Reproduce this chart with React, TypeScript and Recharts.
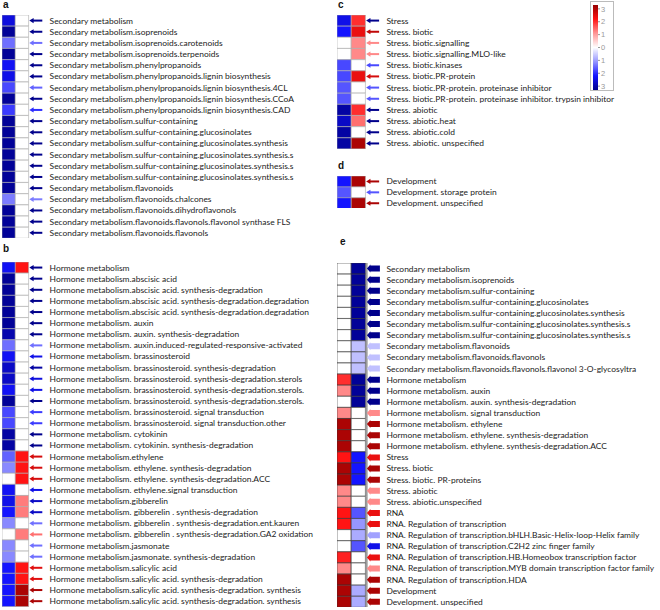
import { BarChart, Bar, XAxis, YAxis, Cell } from "recharts";

// ---- panel a: secondary metabolism ----
const secLabels = [
  "Secondary metabolism",
  "Secondary metabolism.isoprenoids",
  "Secondary metabolism.isoprenoids.carotenoids",
  "Secondary metabolism.isoprenoids.terpenoids",
  "Secondary metabolism.phenylpropanoids",
  "Secondary metabolism.phenylpropanoids.lignin biosynthesis",
  "Secondary metabolism.phenylpropanoids.lignin biosynthesis.4CL",
  "Secondary metabolism.phenylpropanoids.lignin biosynthesis.CCoA",
  "Secondary metabolism.phenylpropanoids.lignin biosynthesis.CAD",
  "Secondary metabolism.sulfur-containing",
  "Secondary metabolism.sulfur-containing.glucosinolates",
  "Secondary metabolism.sulfur-containing.glucosinolates.synthesis",
  "Secondary metabolism.sulfur-containing.glucosinolates.synthesis.s",
  "Secondary metabolism.sulfur-containing.glucosinolates.synthesis.s",
  "Secondary metabolism.sulfur-containing.glucosinolates.synthesis.s",
  "Secondary metabolism.flavonoids",
  "Secondary metabolism.flavonoids.chalcones",
  "Secondary metabolism.flavonoids.dihydroflavonols",
  "Secondary metabolism.flavonoids.flavonols.flavonol synthase FLS",
  "Secondary metabolism.flavonoids.flavonols",
];
const secCol1 = [-2.3, -2.9, -1.3, -2.9, -2.1, -2.2, -1.6, -2.9, -1.7, -2.9, -2.9, -2.9, -2.9, -2.9, -2.9, -2.9, -1.2, -2.9, -2.9, -2.9];
const secCol2 = [0, 0, 0, 0, 0, 0, 0, 0, 0, 0, 0, 0, 0, 0, 0, 0, 0, 0, 0, 0];
const secArrow = [-3, -3, -1.3, -3, -3, -3, -1.4, -3, -1.8, -3, -3, -3, -3, -3, -3, -3, -1.2, -3, -3, -3];

// ---- panel b: hormone metabolism ----
const hormLabels = [
  "Hormone metabolism",
  "Hormone metabolism.abscisic acid",
  "Hormone metabolism.abscisic acid. synthesis-degradation",
  "Hormone metabolism.abscisic acid. synthesis-degradation.degradation",
  "Hormone metabolism.abscisic acid. synthesis-degradation.degradation",
  "Hormone metabolism. auxin",
  "Hormone metabolism. auxin. synthesis-degradation",
  "Hormone metabolism. auxin.induced-regulated-responsive-activated",
  "Hormone metabolism. brassinosteroid",
  "Hormone metabolism. brassinosteroid. synthesis-degradation",
  "Hormone metabolism. brassinosteroid. synthesis-degradation.sterols",
  "Hormone metabolism. brassinosteroid. synthesis-degradation.sterols.",
  "Hormone metabolism. brassinosteroid. synthesis-degradation.sterols.",
  "Hormone metabolism. brassinosteroid. signal transduction",
  "Hormone metabolism. brassinosteroid. signal transduction.other",
  "Hormone metabolism. cytokinin",
  "Hormone metabolism. cytokinin. synthesis-degradation",
  "Hormone metabolism.ethylene",
  "Hormone metabolism. ethylene. synthesis-degradation",
  "Hormone metabolism. ethylene. synthesis-degradation.ACC",
  "Hormone metabolism. ethylene.signal transduction",
  "Hormone metabolism.gibberelin",
  "Hormone metabolism. gibberelin . synthesis-degradation",
  "Hormone metabolism. gibberelin . synthesis-degradation.ent.kauren",
  "Hormone metabolism. gibberelin . synthesis-degradation.GA2 oxidation",
  "Hormone metabolism.jasmonate",
  "Hormone metabolism.jasmonate. synthesis-degradation",
  "Hormone metabolism.salicylic acid",
  "Hormone metabolism.salicylic acid. synthesis-degradation",
  "Hormone metabolism.salicylic acid. synthesis-degradation. synthesis",
  "Hormone metabolism.salicylic acid. synthesis-degradation. synthesis",
];
const hormCol1 = [-2.1, -2.9, -2.9, -2.9, -2.9, -2.9, -2.7, -1.3, -2.1, -2.5, -2.5, -2.1, -2.9, -1.6, -1.6, -2.8, -2.8, -1.4, -1.1, 0, -2.1, -2.2, -2.0, -1.1, 0, -1.1, -1.1, -2.0, -2.0, -2.0, -2.0];
const hormCol2 = [2.0, 0, 0, 0, 0, 0, 0, 0, 0, 0, 0, 0, 0, 0, 0, 0, 0, 2.0, 2.0, 2.0, 0, 1.2, 1.2, 0, 1.2, 0, 0, 2.0, 2.0, 2.8, 2.8];
const hormArrow = [-3, -3, -3, -3, -3, -3, -3, -1.3, -2.2, -2.8, -2.3, -2.2, -3, -1.7, -1.7, -3, -3, 2.4, 2.4, 2.4, -2.2, -2.5, -2.5, -1.3, 1.3, -1.3, -1.3, 2.3, 2.3, 2.8, 2.8];

// ---- panel c: stress ----
const stressLabels = [
  "Stress",
  "Stress. biotic",
  "Stress. biotic.signalling",
  "Stress. biotic.signalling.MLO-like",
  "Stress. biotic.kinases",
  "Stress. biotic.PR-protein",
  "Stress. biotic.PR-protein. proteinase inhibitor",
  "Stress. biotic.PR-protein. proteinase inhibitor. trypsin inhibitor",
  "Stress. abiotic",
  "Stress. abiotic.heat",
  "Stress. abiotic.cold",
  "Stress. abiotic. unspecified",
];
const stressCol1 = [-2.2, -2.0, 0, 0, -1.6, -1.6, -1.5, -1.5, -2.8, -2.5, -2.8, -2.8];
const stressCol2 = [1.8, 2.2, 1.1, 1.1, 0, 2.2, 0, 0, 1.8, 1.3, 0, 2.8];
const stressArrow = [-3, 2.6, 1.1, 1.1, -1.6, 2.4, -1.5, -1.5, -3, -3, -3, -3];

// ---- panel d: development ----
const devLabels = ["Development", "Development. storage protein", "Development. unspecified"];
const devCol1 = [-2.0, -1.5, -2.0];
const devCol2 = [2.8, 0, 2.8];
const devArrow = [2.8, -1.5, 2.8];

// ---- panel e: mixed ----
const mixLabels = [
  "Secondary metabolism",
  "Secondary metabolism.isoprenoids",
  "Secondary metabolism.sulfur-containing",
  "Secondary metabolism.sulfur-containing.glucosinolates",
  "Secondary metabolism.sulfur-containing.glucosinolates.synthesis",
  "Secondary metabolism.sulfur-containing.glucosinolates.synthesis.s",
  "Secondary metabolism.sulfur-containing.glucosinolates.synthesis.s",
  "Secondary metabolism.flavonoids",
  "Secondary metabolism.flavonoids.flavonols",
  "Secondary metabolism.flavonoids.flavonols.flavonol 3-O-glycosyltra",
  "Hormone metabolism",
  "Hormone metabolism. auxin",
  "Hormone metabolism. auxin. synthesis-degradation",
  "Hormone metabolism. signal transduction",
  "Hormone metabolism. ethylene",
  "Hormone metabolism. ethylene. synthesis-degradation",
  "Hormone metabolism. ethylene. synthesis-degradation.ACC",
  "Stress",
  "Stress. biotic",
  "Stress. biotic. PR-proteins",
  "Stress. abiotic",
  "Stress. abiotic.unspecified",
  "RNA",
  "RNA. Regulation of transcription",
  "RNA. Regulation of transcription.bHLH.Basic-Helix-loop-Helix family",
  "RNA. Regulation of transcription.C2H2 zinc finger family",
  "RNA. Regulation of transcription.HB.Homeobox transcription factor",
  "RNA. Regulation of transcription.MYB domain transcription factor family",
  "RNA. Regulation of transcription.HDA",
  "Development",
  "Development. unspecified",
];
const mixCol1 = [0, 0, 0, 0, 0, 0, 0, 0, 0, 0, 1.8, 1.1, 0, 1.1, 2.8, 2.8, 2.8, 2.0, 2.8, 2.8, 1.1, 1.1, 2.0, 2.0, 0, 0, 1.9, 1.1, 2.8, 2.8, 2.8];
const mixCol2 = [-2.9, -2.9, -2.9, -2.9, -2.9, -2.9, -2.9, -0.6, -0.6, -0.6, -2.9, -2.9, -2.9, 0, 0, 0, 0, -2.0, -2.0, -2.0, 0, 0, -1.5, -1.0, -0.8, -1.5, 0, 0, 0, -0.8, -0.8];
const mixArrow = [-3, -3, -3, -3, -3, -3, -3, -0.6, -0.6, -0.6, -3, -3, -3, 1.1, 2.8, 2.8, 2.8, 2.2, 2.8, 2.8, 1.1, 1.1, 2.2, 2.2, -0.9, -2.2, 2.2, 1.1, 2.8, 2.8, 2.8];

// colour bar
const legendTicks = [3, 2, 1, 0, -1, -2, -3];
const legendData = [{ name: "scale", range: [-3.3, 3.3] }];

const STOPS: [number, number[]][] = [
  [-3, [0, 0, 140]],
  [-2, [20, 20, 255]],
  [-1, [150, 150, 255]],
  [0, [255, 255, 255]],
  [1, [255, 150, 150]],
  [2, [255, 20, 20]],
  [3, [150, 0, 0]],
];

function heat(v: number): string {
  const x = Math.max(-3, Math.min(3, v));
  for (let i = 0; i < STOPS.length - 1; i++) {
    const [a, ca] = STOPS[i];
    const [b, cb] = STOPS[i + 1];
    if (x >= a && x <= b) {
      const t = (x - a) / (b - a);
      const c = ca.map((k, j) => Math.round(k + (cb[j] - k) * t));
      return `rgb(${c[0]},${c[1]},${c[2]})`;
    }
  }
  return "#fff";
}

const FONT = "Lato, 'Open Sans', sans-serif";

interface PanelProps {
  left: number;
  top: number;
  rowH: number;
  colW: number;
  width: number;
  labels: string[];
  col1: number[];
  col2: number[];
  arrows: number[];
  block?: boolean;
}

function HeatPanel({ left, top, rowH, colW, width, labels, col1, col2, arrows, block }: PanelProps) {
  const data = labels.map((label, i) => ({
    id: i,
    label,
    c1: col1[i],
    c2: col2[i],
    arrow: arrows[i],
    w1: 1,
    w2: 1,
  }));
  const plotW = colW * 2;
  const height = rowH * labels.length;
  const stroke = block ? "#333" : "#aaa";

  const renderTick = (props: any) => {
    const { x, y, payload } = props;
    const row = data[payload.value];
    const c = heat(row.arrow);
    return (
      <g>
        {block ? (
          <>
            <line x1={x + 1.5} x2={x + 1.5} y1={y - rowH / 2} y2={y + rowH / 2} stroke="#333" strokeWidth={0.8} />
            <polygon
              points={`${x + 1.5},${y} ${x + 5},${y - 4} ${x + 5},${y - 3} ${x + 14.5},${y - 3} ${x + 14.5},${y + 3} ${x + 5},${y + 3} ${x + 5},${y + 4}`}
              fill={c}
            />
          </>
        ) : (
          <>
            <line x1={x + 4} x2={x + 13.7} y1={y} y2={y} stroke={c} strokeWidth={2} />
            <polygon points={`${x + 0.7},${y} ${x + 5},${y - 2.6} ${x + 5},${y + 2.6}`} fill={c} />
          </>
        )}
        <text x={x + 21} y={y} dy="0.35em" fontSize={8.45} fontFamily={FONT} fill="#222">
          {row.label}
        </text>
      </g>
    );
  };

  return (
    <div style={{ position: "absolute", left, top }}>
      <BarChart
        width={width}
        height={height}
        data={data}
        layout="vertical"
        margin={{ top: 0, right: 0, bottom: 0, left: 0 }}
        barCategoryGap={0}
        style={{ overflow: "visible" }}
      >
        <XAxis type="number" domain={[0, 2]} hide />
        <YAxis
          type="category"
          dataKey="id"
          orientation="right"
          width={width - plotW}
          axisLine={false}
          tickLine={false}
          tickSize={0}
          tickMargin={0}
          interval={0}
          tick={renderTick}
        />
        <Bar dataKey="w1" stackId="h" isAnimationActive={false}>
          {data.map((d) => (
            <Cell key={`a${d.id}`} fill={heat(d.c1)} stroke={stroke} strokeWidth={0.6} />
          ))}
        </Bar>
        <Bar dataKey="w2" stackId="h" isAnimationActive={false}>
          {data.map((d) => (
            <Cell key={`b${d.id}`} fill={heat(d.c2)} stroke={stroke} strokeWidth={0.6} />
          ))}
        </Bar>
      </BarChart>
    </div>
  );
}

function PanelTag({ x, y, text }: { x: number; y: number; text: string }) {
  return (
    <div
      style={{
        position: "absolute",
        left: x,
        top: y,
        fontFamily: "'Liberation Sans', Arial, sans-serif",
        fontWeight: "bold",
        fontSize: 10,
        lineHeight: "10px",
        color: "#111",
      }}
    >
      {text}
    </div>
  );
}

function ColorBar() {
  return (
    <div style={{ position: "absolute", left: 590, top: 1, width: 22, height: 88, border: "1px solid #bbb" }}>
      <BarChart
        width={22}
        height={88}
        data={legendData}
        margin={{ top: 3, right: 0, bottom: 0, left: 2 }}
        barCategoryGap={0}
      >
        <defs>
          <linearGradient id="heatGrad" x1="0" y1="0" x2="0" y2="1">
            {legendTicks.map((t, i) => (
              <stop key={t} offset={`${(i / (legendTicks.length - 1)) * 100}%`} stopColor={heat(t)} />
            ))}
          </linearGradient>
        </defs>
        <XAxis dataKey="name" hide />
        <YAxis
          type="number"
          domain={[-3.3, 3.3]}
          ticks={legendTicks}
          orientation="right"
          width={15}
          axisLine={false}
          tickSize={2}
          tickMargin={1}
          tickLine={{ stroke: "#999" }}
          tickFormatter={(v: number) => String(Math.abs(v))}
          tick={{ fontSize: 7.5, fill: "#999", fontFamily: "'Liberation Sans', Arial, sans-serif" }}
          interval={0}
        />
        <Bar dataKey="range" fill="url(#heatGrad)" isAnimationActive={false} />
      </BarChart>
    </div>
  );
}

export default function App() {
  return (
    <div
      style={{
        position: "absolute",
        left: 0,
        top: 0,
        width: 660,
        height: 610,
        background: "#fff",
        overflow: "hidden",
      }}
    >
      <PanelTag x={3} y={0} text="a" />
      <PanelTag x={3} y={244} text="b" />
      <PanelTag x={338} y={0} text="c" />
      <PanelTag x={338} y={161} text="d" />
      <PanelTag x={340} y={237} text="e" />

      <HeatPanel left={2} top={15.1} rowH={11.17} colW={13.3} width={328} labels={secLabels} col1={secCol1} col2={secCol2} arrows={secArrow} />
      <HeatPanel left={2} top={262.1} rowH={11.12} colW={13.3} width={328} labels={hormLabels} col1={hormCol1} col2={hormCol2} arrows={hormArrow} />
      <HeatPanel left={337.3} top={15.1} rowH={11.17} colW={14.2} width={322} labels={stressLabels} col1={stressCol1} col2={stressCol2} arrows={stressArrow} />
      <HeatPanel left={337.3} top={175.6} rowH={10.9} colW={14.2} width={322} labels={devLabels} col1={devCol1} col2={devCol2} arrows={devArrow} />
      <HeatPanel left={337.3} top={262.7} rowH={11.11} colW={14.2} width={322} labels={mixLabels} col1={mixCol1} col2={mixCol2} arrows={mixArrow} block />

      <ColorBar />
    </div>
  );
}
